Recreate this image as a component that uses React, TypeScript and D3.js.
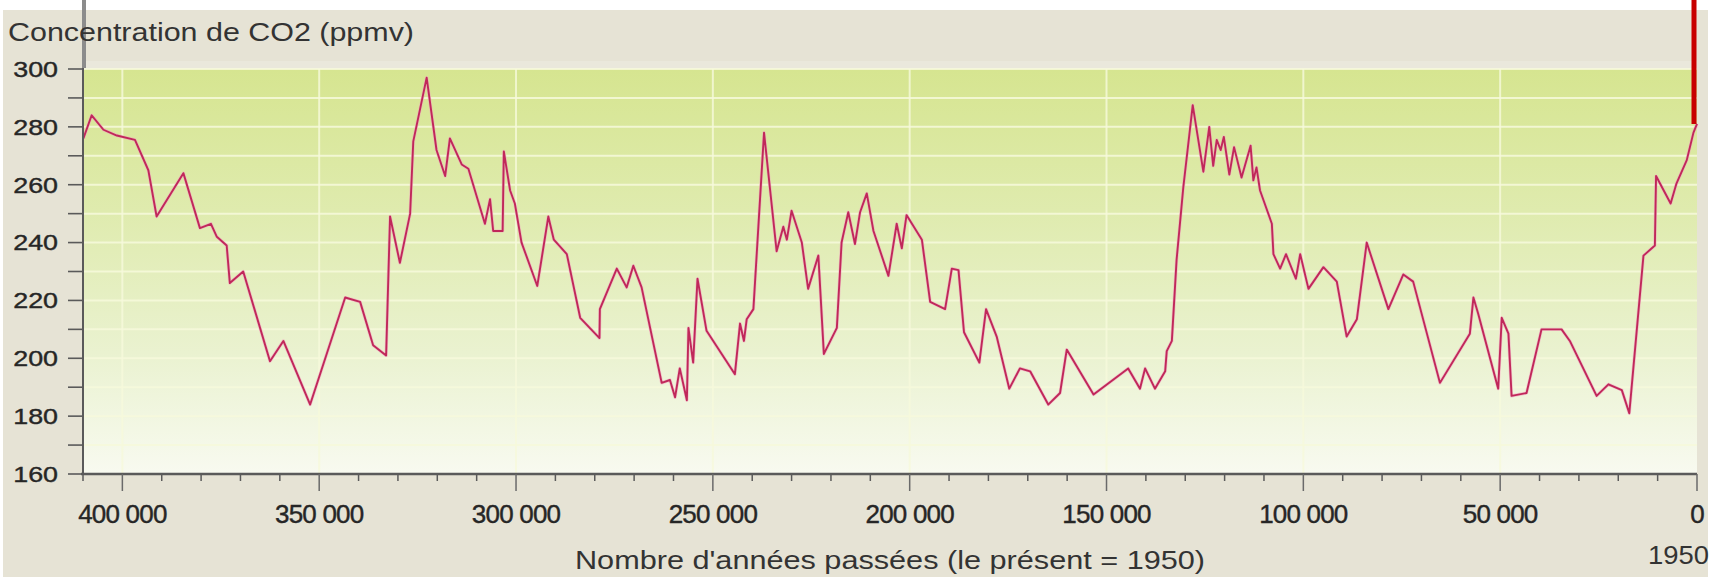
import React from "react";
import * as d3 from "d3";

// Years before present (1950) and CO2 concentration (ppmv)
const years = [
  409900, 407800, 404800, 401400, 396800, 393400, 391300, 384500, 380300, 377500,
  376000, 373500, 372700, 369300, 362500, 359100, 352300, 343400, 339600, 336300,
  333000, 332000, 329500, 326900, 326100, 322700, 320200, 318000, 316800, 313800,
  312100, 307900, 306600, 305800, 303400, 303100, 301500, 300300, 298600, 294600,
  291800, 290400, 287100, 283700, 278800, 278700, 274400, 271900, 270200, 268100,
  263000, 260900, 259600, 258400, 256600, 256200, 255000, 253900, 251600, 244400,
  243100, 242100, 241400, 239700, 237000, 233800, 232100, 231200, 230000, 227400,
  225800, 223200, 221800, 218500, 217300, 215600, 213900, 212600, 210900, 209200,
  205400, 203300, 202000, 200800, 196900, 194800, 191000, 189300, 187600, 186200,
  182300, 180600, 177900, 174700, 172000, 169400, 164800, 161800, 160100, 153300,
  144500, 141500, 140200, 137700, 135100, 134700, 133400, 132200, 130500, 128100,
  125400, 123900, 122900, 122000, 121000, 120200, 118800, 117600, 115700, 113400,
  112700, 111900, 111000, 108000, 107600, 105900, 104400, 101900, 100800, 98700,
  94900, 91500, 89000, 86400, 83900, 78400, 74600, 72100, 65300, 57700,
  56800, 55600, 50500, 49600, 47900, 47100, 43300, 39500, 34400, 32300,
  25500, 22500, 19100, 17200, 13600, 10700, 10400, 6700, 5200, 2600,
  900, 0,
];

const co2 = [
  276, 284, 279, 277, 275.5, 265, 249, 264, 245, 246.5,
  242, 239, 226, 230, 199, 206, 184, 221, 219.5, 204.5,
  201, 249, 233, 250, 275, 297, 272, 263, 276, 267,
  265.5, 246.5, 255, 244, 244, 271.5, 258, 253.5, 240, 225,
  249, 241, 236, 214, 207, 217, 231, 224.5, 232, 224.5,
  191.5, 192.5, 186.5, 196.5, 185.5, 210.5, 198.5, 227.5, 209.5, 194.5,
  212, 206, 213.5, 217, 278, 237, 245.5, 241, 251, 240,
  224, 235.5, 201.5, 210.5, 240, 250.5, 239.5, 250.5, 257, 244,
  228.5, 246.5, 238, 249.5, 241, 219.5, 217, 231, 230.5, 209,
  198.5, 217, 207.5, 189.5, 196.5, 195.5, 184, 188, 203, 187.5,
  196.5, 189.5, 196.5, 189.5, 195.5, 202.5, 206, 234, 259, 287.5,
  264.5, 280, 266.5, 275.5, 272, 276.5, 263.5, 273, 262.5, 273.5,
  261.5, 266, 258, 246.5, 236, 231, 236, 227.5, 236, 224,
  231.5, 226.5, 207.5, 213.5, 240, 217, 229, 226.5, 191.5, 208.5,
  221, 215.5, 189.5, 214, 208.5, 187, 188, 210, 210, 206,
  187, 191, 189, 181, 235.5, 239, 263, 253.5, 260.5, 268.5,
  278, 281,
];

// Modern rise (off the chart, drawn as the red bar)
const modernYears = [0, 0];
const modernCo2 = [281, 330];

const yTickValues = [160, 180, 200, 220, 240, 260, 280, 300];
const yMinorValues = [170, 190, 210, 230, 250, 270, 290];
const xTickValues = [400000, 350000, 300000, 250000, 200000, 150000, 100000, 50000, 0];
const xTickLabels = ["400 000", "350 000", "300 000", "250 000", "200 000", "150 000", "100 000", "50 000", "0"];

const titleText = "Concentration de CO2 (ppmv)";
const xAxisTitle = "Nombre d'années passées (le présent = 1950)";
const presentLabel = "1950";

const W = 1716;
const H = 577;
const FONT = "'Liberation Sans', Arial, Helvetica, sans-serif";

export default function App() {
  const plotL = 83, plotR = 1697, plotT = 69, plotB = 474;
  const x = d3.scaleLinear().domain([410000, 0]).range([plotL, plotR]);
  const y = d3.scaleLinear().domain([160, 300]).range([plotB, plotT]);

  const lineGen = d3
    .line<number>()
    .x((_, i) => x(years[i]))
    .y((d) => y(d));
  const modernGen = d3
    .line<number>()
    .x((_, i) => x(modernYears[i]))
    .y((d) => y(d));

  const gridY = d3.range(170, 301, 10);
  const gridX = xTickValues.filter((v) => v > 0);
  const minorX = d3.range(0, 410001, 10000).filter((v) => v % 50000 !== 0);
  const textColor = "#262626";

  return (
    <svg
      width={W}
      height={H}
      style={{ position: "absolute", left: 0, top: 0, display: "block" }}
      fontFamily={FONT}
    >
      <defs>
        <linearGradient id="plotbg" x1="0" y1="0" x2="0" y2="1">
          <stop offset="0%" stopColor="#d6e590" />
          <stop offset="35%" stopColor="#dfebae" />
          <stop offset="70%" stopColor="#eaf2d0" />
          <stop offset="100%" stopColor="#f8faf0" />
        </linearGradient>
      </defs>
      <rect x={0} y={0} width={W} height={H} fill="#ffffff" />
      <rect x={3} y={10} width={1705} height={H - 10} fill="#e6e3d5" />
      <rect x={plotL} y={plotT - 8} width={plotR - plotL} height={8} fill="#eae8dc" />

      {/* plot background */}
      <rect x={plotL} y={plotT} width={plotR - plotL} height={plotB - plotT} fill="url(#plotbg)" />

      {/* grid */}
      {gridY.map((v) => (
        <line key={"gy" + v} x1={plotL} x2={plotR} y1={y(v)} y2={y(v)} stroke="#f7fadc" strokeWidth={2} opacity={0.85} />
      ))}
      {gridX.map((v) => (
        <line key={"gx" + v} x1={x(v)} x2={x(v)} y1={plotT} y2={plotB} stroke="#f7fadc" strokeWidth={2} opacity={0.8} />
      ))}

      {/* gray marker at top-left */}
      <rect x={plotL - 1} y={0} width={4} height={plotT - 1} fill="#8c8c8c" />

      {/* data line: soft halo + core */}
      <path d={lineGen(co2) || ""} fill="none" stroke="#f2a0bf" strokeWidth={3.2} strokeLinejoin="round" opacity={0.6} />
      <path d={lineGen(co2) || ""} fill="none" stroke="#c0285a" strokeWidth={1.9} strokeLinejoin="round" />
      {/* modern rise */}
      <path d={modernGen(modernCo2) || ""} fill="none" stroke="#c80000" strokeWidth={5} transform="translate(-3,0)" />

      {/* y axis */}
      <line x1={plotL} x2={plotL} y1={plotT - 1} y2={plotB} stroke="#5a5a5a" strokeWidth={2} />
      {yTickValues.concat(yMinorValues).map((v) => (
        <line key={"yt" + v} x1={plotL - 15} x2={plotL} y1={y(v)} y2={y(v)} stroke="#5a5a5a" strokeWidth={1.6} />
      ))}
      {yTickValues.map((v) => (
        <text
          key={"yl" + v}
          transform={`translate(58,${y(v)}) scale(1.22,1)`}
          textAnchor="end"
          dy="0.36em"
          fontSize={22}
          fill={textColor}
          stroke={textColor}
          strokeWidth={0.4}
        >
          {v}
        </text>
      ))}

      {/* x axis */}
      <line x1={plotL - 2} x2={plotR} y1={plotB} y2={plotB} stroke="#5a5a5a" strokeWidth={2.5} />
      {minorX.map((v) => (
        <line key={"xm" + v} x1={x(v)} x2={x(v)} y1={plotB} y2={plotB + 7} stroke="#5a5a5a" strokeWidth={1.5} />
      ))}
      {xTickValues.map((v) => (
        <line key={"xt" + v} x1={x(v)} x2={x(v)} y1={plotB} y2={plotB + 17} stroke="#6a6a6a" strokeWidth={1.5} />
      ))}
      {xTickValues.map((v, i) => (
        <text
          key={"xl" + v}
          x={x(v)}
          y={523}
          textAnchor="middle"
          fontSize={26}
          fill={textColor}
          stroke={textColor}
          strokeWidth={0.4}
          letterSpacing={-0.8}
        >
          {xTickLabels[i]}
        </text>
      ))}

      {/* titles */}
      <text x={8} y={41} fontSize={25} fill="#333" textLength={406} lengthAdjust="spacingAndGlyphs">
        {titleText}
      </text>
      <text x={575} y={569} fontSize={26} fill="#333" textLength={630} lengthAdjust="spacingAndGlyphs">
        {xAxisTitle}
      </text>
      <text x={1648} y={564} fontSize={25} fill="#333" textLength={61} lengthAdjust="spacingAndGlyphs">
        {presentLabel}
      </text>
    </svg>
  );
}
